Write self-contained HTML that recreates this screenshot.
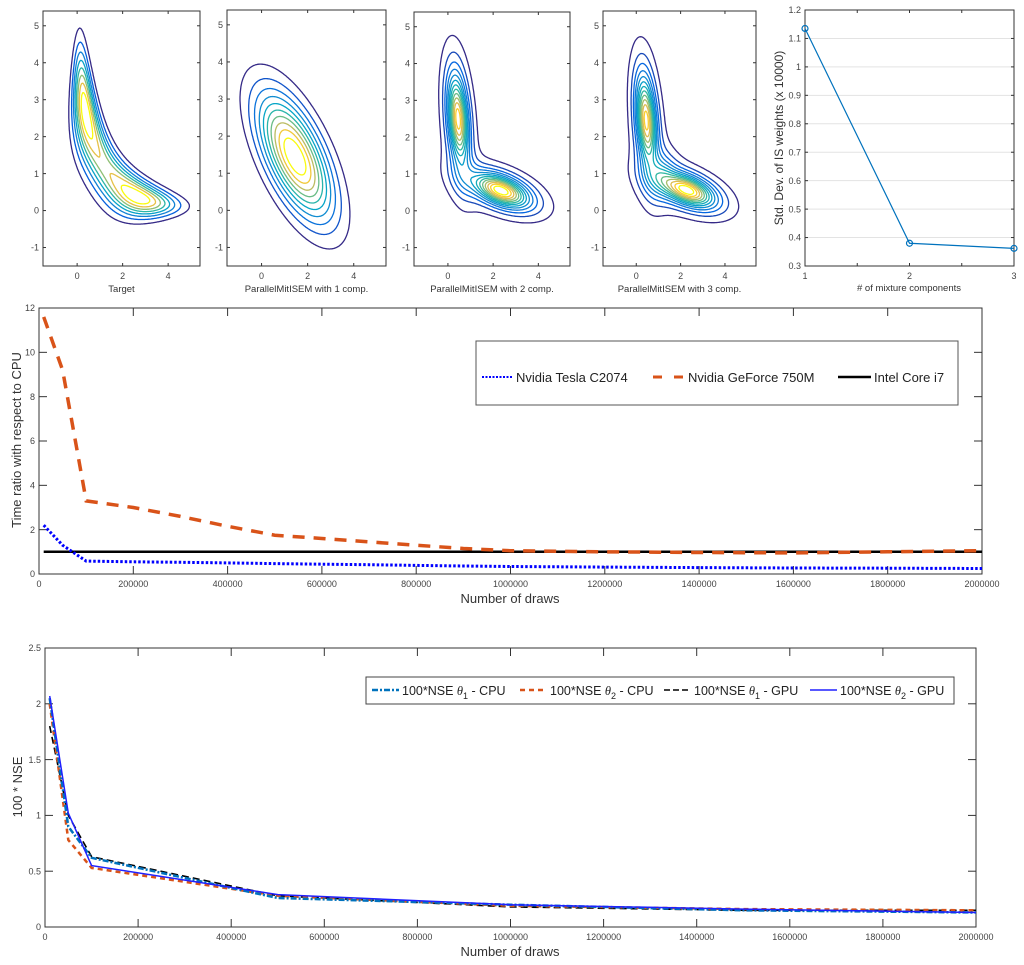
<!DOCTYPE html>
<html><head><meta charset="utf-8">
<style>
html,body{margin:0;padding:0;background:#fff;}
svg{display:block;font-family:"Liberation Sans",Arial,sans-serif;}
</style></head>
<body>
<svg id="fig" width="1024" height="965" viewBox="0 0 1024 965" xmlns="http://www.w3.org/2000/svg"></svg>
<script>
// ---------- data ----------
const contourXTicks=[0,2,4];
const contourYTicks=[-1,0,1,2,3,4,5];
const targetParams=[1,0,3,3]; // A,B,C1,C2 of banana density
const gauss1Mean=[1.45,1.45];
const gauss1Sd=[1.42,0.68];
const gauss1Angle=[-47];
const mixDf=[4];
const mix2Weights=[1,1];
const mix2Means=[[0.45,2.5],[2.35,0.55]];
const mix2Sds=[[0.37,0.98],[0.98,0.37]];
const mix2Rho=[-0.3,-0.5];
const mix3Weights=[1,1,0.15];
const mix3Means=[[0.45,2.45],[2.3,0.55],[1.2,1.0]];
const mix3Sds=[[0.37,0.98],[0.98,0.37],[0.5,0.5]];
const mix3Rho=[-0.3,-0.5,0];
const components=[1,2,3];
const stdDevIS=[1.135,0.38,0.362];
const stdYTicks=[0.3,0.4,0.5,0.6,0.7,0.8,0.9,1,1.1,1.2];
const drawsMid=[10000,50000,100000,200000,300000,400000,500000,600000,700000,800000,900000,1000000,1200000,1400000,1600000,1800000,2000000];
const teslaRatio=[2.2,1.3,0.58,0.55,0.53,0.5,0.47,0.44,0.42,0.39,0.36,0.34,0.31,0.29,0.27,0.26,0.25];
const geforceRatio=[11.6,9.2,3.3,3.0,2.6,2.15,1.75,1.6,1.45,1.3,1.15,1.05,1.0,0.97,0.95,1.0,1.05];
const intelRatio=[1,1,1,1,1,1,1,1,1,1,1,1,1,1,1,1,1];
const midYTicks=[0,2,4,6,8,10,12];
const drawsTicks=[0,200000,400000,600000,800000,1000000,1200000,1400000,1600000,1800000,2000000];
const drawsBot=[10000,50000,100000,500000,1000000,1500000,2000000];
const nseT1CPU=[2.05,0.9,0.62,0.26,0.2,0.15,0.13];
const nseT2CPU=[2.0,0.78,0.53,0.28,0.19,0.16,0.15];
const nseT1GPU=[1.8,1.0,0.63,0.28,0.18,0.15,0.15];
const nseT2GPU=[2.07,1.02,0.55,0.29,0.2,0.16,0.13];
const botYTicks=[0,0.5,1,1.5,2,2.5];

const NS='http://www.w3.org/2000/svg';
const svg=document.getElementById('fig');
function el(tag,attrs,parent,text){const e=document.createElementNS(NS,tag);for(const k in attrs)e.setAttribute(k,attrs[k]);if(text!==undefined)e.textContent=text;(parent||svg).appendChild(e);return e;}
function scale(d0,d1,p0,p1){return v=>p0+(v-d0)/(d1-d0)*(p1-p0);}

function axes(box,sx,sy,xt,yt,fs,tl,xfmt,yfmt,name){
  const g=el('g',{});
  
  
  const fr=el('rect',{x:box.l,y:box.t,width:box.r-box.l,height:box.b-box.t,fill:'none',stroke:'#333','stroke-width':1},g);
  
  
  xt.forEach(v=>{const x=sx(v);
    el('line',{x1:x,y1:box.b,x2:x,y2:box.b-tl,stroke:'#333'},g);
    el('line',{x1:x,y1:box.t,x2:x,y2:box.t+tl,stroke:'#333'},g);
    const t=el('text',{x:x,y:box.b+fs+4,'font-size':fs,'text-anchor':'middle',fill:'#444'},g,xfmt(v));
    
    
  });
  yt.forEach(v=>{const y=sy(v);
    el('line',{x1:box.l,y1:y,x2:box.l+tl,y2:y,stroke:'#333'},g);
    el('line',{x1:box.r,y1:y,x2:box.r-tl,y2:y,stroke:'#333'},g);
    const t=el('text',{x:box.l-4,y:y+fs*0.35,'font-size':fs,'text-anchor':'end',fill:'#444'},g,yfmt(v));
    
    
  });
  return g;
}
const parStops=[[0,'#352A87'],[0.15,'#0363E1'],[0.3,'#1485D4'],[0.45,'#06A7C6'],[0.6,'#38B99E'],[0.72,'#92BF73'],[0.82,'#D9BA56'],[0.92,'#FCCE2E'],[1,'#F9FB0E']];
function hex(h){return [1,3,5].map(i=>parseInt(h.substr(i,2),16));}
function parula(t){for(let i=1;i<parStops.length;i++){if(t<=parStops[i][0]){const a=parStops[i-1],b=parStops[i];const f=(t-a[0])/(b[0]-a[0]);const ca=hex(a[1]),cb=hex(b[1]);return 'rgb('+ca.map((c,k)=>Math.round(c+(cb[k]-c)*f)).join(',')+')';}}return parStops[parStops.length-1][1];}

function tMix(w,means,sds,rhos){
  const nu=mixDf[0];
  return (x,y)=>{let s=0;for(let i=0;i<means.length;i++){const dx=(x-means[i][0])/sds[i][0],dy=(y-means[i][1])/sds[i][1],r=rhos[i];
    const Q=(dx*dx-2*r*dx*dy+dy*dy)/(1-r*r);
    s+=w[i]*Math.pow(1+Q/nu,-(nu+2)/2)/(sds[i][0]*sds[i][1]*Math.sqrt(1-r*r));}return s;};
}
function contourPanel(box,f,nLev,name,label){
  const sx=scale(-1.5,5.4,box.l,box.r),sy=scale(-1.5,5.4,box.b,box.t);
  const g=axes(box,sx,sy,contourXTicks,contourYTicks,9,3,v=>String(v),v=>String(v),name);
  const N=150,x0=-1.5,x1=5.4,h=(x1-x0)/N;const V=[];let mx=0;
  for(let i=0;i<=N;i++){V.push([]);for(let j=0;j<=N;j++){const v=f(x0+i*h,x0+j*h);V[i].push(v);if(v>mx)mx=v;}}
  for(let k=1;k<=nLev;k++){
    const L=mx*k/(nLev+1);let d='';
    const P=(xa,ya,xb,yb)=>{d+='M'+sx(xa).toFixed(1)+' '+sy(ya).toFixed(1)+'L'+sx(xb).toFixed(1)+' '+sy(yb).toFixed(1);};
    for(let i=0;i<N;i++)for(let j=0;j<N;j++){
      const a=V[i][j],b=V[i+1][j],c=V[i+1][j+1],dd=V[i][j+1];
      const cs=(a>=L?1:0)|(b>=L?2:0)|(c>=L?4:0)|(dd>=L?8:0);if(cs===0||cs===15)continue;
      const X=x0+i*h,Y=x0+j*h;
      const e=[[X+h*(L-a)/(b-a),Y],[X+h,Y+h*(L-b)/(c-b)],[X+h*(L-dd)/(c-dd),Y+h],[X,Y+h*(L-a)/(dd-a)]];
      const seg=(p,q)=>P(e[p][0],e[p][1],e[q][0],e[q][1]);
      switch(cs){case 1:case 14:seg(3,0);break;case 2:case 13:seg(0,1);break;case 3:case 12:seg(3,1);break;
        case 4:case 11:seg(1,2);break;case 6:case 9:seg(0,2);break;case 7:case 8:seg(3,2);break;
        case 5:seg(3,2);seg(0,1);break;case 10:seg(0,3);seg(1,2);break;}
    }
    const p=el('path',{d:d,fill:'none',stroke:parula((k-1)/(nLev-1)),'stroke-width':1.3,'stroke-linecap':'round'},g);
    
    
  }
  const t=el('text',{x:(box.l+box.r)/2,y:box.b+26,'font-size':9.5,'text-anchor':'middle',fill:'#333'},g,label);
  
  
}
// Target banana
const tgt=(x,y)=>{const [A,B,C1,C2]=targetParams;return Math.exp(-0.5*(A*x*x*y*y+x*x+y*y-2*B*x*y-2*C1*x-2*C2*y));};
contourPanel({l:43,t:11,r:200,b:266},tgt,8,'target-contour','Target');
// single gaussian
(function(){const th=gauss1Angle[0]*Math.PI/180,c=Math.cos(th),s=Math.sin(th);
  const f=(x,y)=>{const dx=x-gauss1Mean[0],dy=y-gauss1Mean[1];const u=dx*c+dy*s,v=-dx*s+dy*c;return Math.exp(-0.5*(u*u/(gauss1Sd[0]*gauss1Sd[0])+v*v/(gauss1Sd[1]*gauss1Sd[1])));};
  contourPanel({l:227,t:10,r:386,b:266},f,10,'mitisem-1comp-contour','ParallelMitISEM with 1 comp.');})();
contourPanel({l:414,t:12,r:570,b:266},tMix(mix2Weights,mix2Means,mix2Sds,mix2Rho),13,'mitisem-2comp-contour','ParallelMitISEM with 2 comp.');
contourPanel({l:603,t:11,r:756,b:266},tMix(mix3Weights,mix3Means,mix3Sds,mix3Rho),13,'mitisem-3comp-contour','ParallelMitISEM with 3 comp.');

// std dev panel
(function(){const box={l:805,t:10,r:1014,b:266};
  const sx=scale(1,3,box.l,box.r),sy=scale(0.3,1.2,box.b,box.t);
  stdYTicks.forEach(v=>{if(v>0.3&&v<1.2){const gl=el('line',{x1:box.l,x2:box.r,y1:sy(v),y2:sy(v),stroke:'#e3e3e3'});}});
  axes(box,sx,sy,[1,1.5,2,2.5,3],stdYTicks,9,3,v=>Number.isInteger(v)?String(v):'',v=>String(v),'std-dev-axes');
  const pts=components.map((c,i)=>sx(c)+','+sy(stdDevIS[i])).join(' ');
  const pl=el('polyline',{points:pts,fill:'none',stroke:'#0072BD','stroke-width':1.2});
  
  
  components.forEach((c,i)=>{const m=el('circle',{cx:sx(c),cy:sy(stdDevIS[i]),r:3,fill:'none',stroke:'#0072BD','stroke-width':1.2});
    
    });
  const yl=el('text',{x:0,y:0,'font-size':12,'text-anchor':'middle',fill:'#333',transform:'translate(783,138) rotate(-90)'},svg,'Std. Dev. of IS weights (x 10000)');
  
  
  const xl=el('text',{x:909,y:291,'font-size':9.5,'text-anchor':'middle',fill:'#333'},svg,'# of mixture components');
  
  
})();

function line(xs,ys,sx,sy,attrs,name){const p=el('polyline',Object.assign({points:xs.map((x,i)=>sx(x).toFixed(1)+','+sy(ys[i]).toFixed(1)).join(' '),fill:'none'},attrs));
  
  return p;}

// middle chart
(function(){const box={l:39,t:308,r:982,b:574};
  const sx=scale(0,2000000,box.l,box.r),sy=scale(0,12,box.b,box.t);
  axes(box,sx,sy,drawsTicks,midYTicks,9,8,v=>String(v),v=>String(v),'time-ratio-axes');
  line(drawsMid,intelRatio,sx,sy,{stroke:'#000','stroke-width':2.5},'intel-core-i7-line');
  line(drawsMid,geforceRatio,sx,sy,{stroke:'#D95319','stroke-width':3.5,'stroke-dasharray':'12 9'},'geforce-750m-line');
  line(drawsMid,teslaRatio,sx,sy,{stroke:'#0000FF','stroke-width':3,'stroke-dasharray':'2.5 2'},'tesla-c2074-line');
  const lg=el('g',{});
  el('rect',{x:476,y:341,width:482,height:64,fill:'#fff',stroke:'#555'},lg);
  el('line',{x1:482,x2:513,y1:377,y2:377,stroke:'#0000FF','stroke-width':2,'stroke-dasharray':'2 1.5'},lg);
  el('text',{x:516,y:382,'font-size':13,fill:'#222'},lg,'Nvidia Tesla C2074');
  el('line',{x1:653,x2:686,y1:377,y2:377,stroke:'#D95319','stroke-width':3,'stroke-dasharray':'9 12'},lg);
  el('text',{x:688,y:382,'font-size':13,fill:'#222'},lg,'Nvidia GeForce 750M');
  el('line',{x1:838,x2:871,y1:377,y2:377,stroke:'#000','stroke-width':2.5},lg);
  el('text',{x:874,y:382,'font-size':13,fill:'#222'},lg,'Intel Core i7');
  const yl=el('text',{'font-size':13,'text-anchor':'middle',fill:'#333',transform:'translate(21,440) rotate(-90)'},svg,'Time ratio with respect to CPU');
  
  const xl=el('text',{x:510,y:603,'font-size':13,'text-anchor':'middle',fill:'#333'},svg,'Number of draws');
  
})();

// bottom chart
(function(){const box={l:45,t:648,r:976,b:927};
  const sx=scale(0,2000000,box.l,box.r),sy=scale(0,2.5,box.b,box.t);
  axes(box,sx,sy,drawsTicks,botYTicks,9,8,v=>String(v),v=>String(v),'nse-axes');
  line(drawsBot,nseT1GPU,sx,sy,{stroke:'#000','stroke-width':1.6,'stroke-dasharray':'7 4'},'nse-theta1-gpu-line');
  line(drawsBot,nseT2CPU,sx,sy,{stroke:'#D95319','stroke-width':2.5,'stroke-dasharray':'5 4'},'nse-theta2-cpu-line');
  line(drawsBot,nseT1CPU,sx,sy,{stroke:'#0072BD','stroke-width':2.5,'stroke-dasharray':'6 2 2 2'},'nse-theta1-cpu-line');
  line(drawsBot,nseT2GPU,sx,sy,{stroke:'#2020FF','stroke-width':1.5},'nse-theta2-gpu-line');
  const lg=el('g',{});
  el('rect',{x:366,y:677,width:588,height:27,fill:'#fff',stroke:'#444'},lg);
  const items=[[372,'#0072BD','6 2 2 2',2.5,'1','CPU'],[520,'#D95319','5 4',2.5,'2','CPU'],[664,'#000','6 3',1.5,'1','GPU'],[810,'#2020FF','',1.5,'2','GPU']];
  items.forEach(it=>{el('line',{x1:it[0],x2:it[0]+27,y1:690,y2:690,stroke:it[1],'stroke-width':it[3],'stroke-dasharray':it[2]},lg);
    const t=el('text',{x:it[0]+30,y:695,'font-size':12.5,fill:'#222'},lg);
    el('tspan',{},t,'100*NSE ');el('tspan',{'font-style':'italic','font-family':'Liberation Serif,serif'},t,'θ');
    el('tspan',{dy:4,'font-size':9},t,it[4]);el('tspan',{dy:-4},t,' - '+it[5]);});
  const yl=el('text',{'font-size':13,'text-anchor':'middle',fill:'#333',transform:'translate(22,787) rotate(-90)'},svg,'100 * NSE');
  
  const xl=el('text',{x:510,y:956,'font-size':13,'text-anchor':'middle',fill:'#333'},svg,'Number of draws');
  
})();
</script>
</body></html>
